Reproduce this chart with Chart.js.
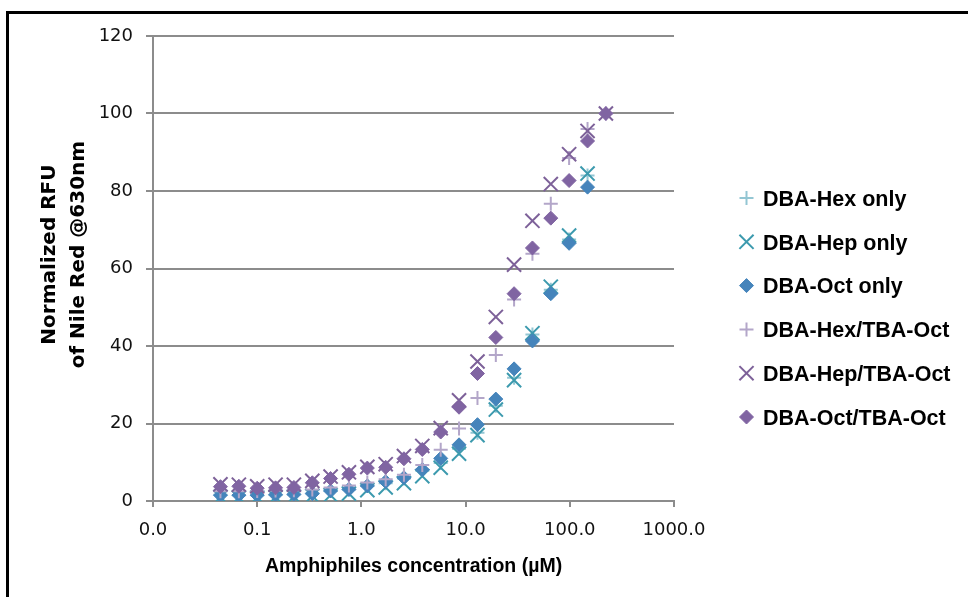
<!DOCTYPE html>
<html>
<head>
<meta charset="utf-8">
<script src="https://cdn.jsdelivr.net/npm/chart.js@4.4.1/dist/chart.umd.min.js"></script>
<style>
  html, body { margin: 0; padding: 0; background: #fff; }
  #wrap { position: relative; width: 968px; height: 597px; overflow: hidden; }
  #frame { position: absolute; left: 6px; top: 11px; width: 1000px; height: 700px; border: 3px solid #000; pointer-events: none; }
  canvas { position: absolute; left: 0; top: 0; }
</style>
</head>
<body>
<div id="wrap">
  <canvas id="chart" width="968" height="597"></canvas>
  <div id="frame"></div>
</div>
<script>
// concentrations (µM), dilution series x1.5
const concentrations = [0.0444, 0.0667, 0.1, 0.15, 0.225, 0.338, 0.506, 0.759, 1.14, 1.71, 2.56, 3.84,
  5.77, 8.65, 13.0, 19.5, 29.2, 43.8, 65.7, 98.5, 148, 222];

const seriesNames = ["DBA-Hex only", "DBA-Hep only", "DBA-Oct only",
  "DBA-Hex/TBA-Oct", "DBA-Hep/TBA-Oct", "DBA-Oct/TBA-Oct"];

const hexOnly = [1.6, 1.5, 1.5, 1.6, 1.7, 2.0, 2.6, 3.0, 3.9, 4.6, 5.8, 7.8, 9.8, 13.5, 17.6, 24.6, 31.8, 43.0, 54.5, 67.5, 84.0];
const hepOnly = [1.0, 0.9, 0.9, 1.0, 1.1, 1.3, 1.5, 1.9, 2.8, 3.5, 4.6, 6.4, 8.6, 12.2, 17.0, 23.6, 31.2, 43.3, 55.3, 68.5, 84.5];
const octOnly = [1.5, 1.5, 1.5, 1.6, 1.7, 1.9, 2.6, 3.0, 3.9, 5.0, 6.0, 8.1, 11.0, 14.5, 19.7, 26.3, 34.1, 41.3, 53.5, 66.5, 81.0];
const hexTba = [2.5, 2.5, 2.6, 2.7, 2.8, 3.0, 3.5, 4.0, 4.8, 5.6, 6.8, 9.3, 13.2, 18.7, 26.6, 37.7, 52.0, 63.8, 76.7, 88.5, 96.0, 100];
const hepTba = [4.3, 4.2, 3.8, 4.2, 4.2, 5.2, 6.3, 7.4, 8.8, 9.5, 11.6, 14.2, 18.8, 26.0, 36.0, 47.5, 61.0, 72.3, 81.8, 89.5, 95.5, 100];
const octTba = [3.7, 3.8, 3.3, 3.4, 3.5, 4.7, 5.8, 6.9, 8.5, 8.7, 10.9, 13.3, 17.8, 24.2, 32.9, 42.2, 53.5, 65.3, 73.0, 82.7, 92.9, 100];

const xTicks = [0.01, 0.1, 1, 10, 100, 1000];
const yTicks = [0, 20, 40, 60, 80, 100, 120];

const styles = [
  { color: "#93c6d3", pointStyle: "cross", radius: 7, width: 2 },
  { color: "#3c9aae", pointStyle: "crossRot", radius: 10, width: 2 },
  { color: "#4584bb", pointStyle: "rectRot", radius: 7, width: 1 },
  { color: "#b3a6c9", pointStyle: "cross", radius: 7, width: 2 },
  { color: "#7d6199", pointStyle: "crossRot", radius: 10, width: 2 },
  { color: "#8064a2", pointStyle: "rectRot", radius: 7, width: 1 }
];

const values = [hexOnly, hepOnly, octOnly, hexTba, hepTba, octTba];

const datasets = values.map((vals, i) => ({
  label: seriesNames[i],
  data: vals.map((v, j) => ({ x: concentrations[j], y: v })),
  showLine: false,
  pointStyle: styles[i].pointStyle,
  pointRadius: styles[i].radius,
  pointHoverRadius: styles[i].radius,
  pointBorderWidth: styles[i].width,
  borderColor: styles[i].color,
  backgroundColor: styles[i].color,
  // later series are drawn on top, like the original
  order: values.length - i
}));

const tickFont = { family: "'DejaVu Sans', sans-serif", size: 18 };
const gridGray = "#8c8c8c";

const sideLegend = {
  id: "sideLegend",
  afterDraw(chart) {
    const { ctx } = chart;
    ctx.save();
    chart.data.datasets.forEach((ds, i) => {
      const y = 198 + i * 43.8;
      ctx.fillStyle = ds.backgroundColor;
      ctx.strokeStyle = ds.borderColor;
      ctx.lineWidth = ds.pointBorderWidth;
      Chart.helpers.drawPoint(ctx, {
        pointStyle: ds.pointStyle,
        radius: ds.pointRadius,
        borderWidth: ds.pointBorderWidth,
        rotation: 0
      }, 746.5, y);
      ctx.fillStyle = "#000";
      ctx.font = "bold 21.5px 'Liberation Sans', Arial, sans-serif";
      ctx.textBaseline = "alphabetic";
      ctx.textAlign = "left";
      ctx.fillText(ds.label, 763, y + 7.7);
    });
    ctx.restore();
  }
};

new Chart(document.getElementById("chart"), {
  type: "scatter",
  data: { datasets },
  plugins: [sideLegend],
  options: {
    responsive: false,
    animation: false,
    layout: { padding: { left: 0, top: 36, right: 294, bottom: 0 } },
    plugins: {
      legend: { display: false },
      tooltip: { enabled: false }
    },
    scales: {
      x: {
        type: "logarithmic",
        position: "bottom",
        min: 0.01,
        max: 1000,
        afterBuildTicks: (scale) => {
          scale.ticks = xTicks.map((v) => ({ value: v }));
        },
        afterFit: (scale) => {
          scale.height = 96;
        },
        ticks: {
          callback: (v) => Number(v).toFixed(1),
          font: tickFont,
          color: "#111",
          padding: 13,
          autoSkip: false,
          maxRotation: 0
        },
        grid: { drawOnChartArea: false, drawTicks: true, tickLength: 6, color: gridGray, lineWidth: 2 },
        border: { color: gridGray, width: 2 },
        title: {
          display: true,
          text: "Amphiphiles concentration (µM)",
          color: "#000",
          font: { family: "'Liberation Sans', Arial, sans-serif", weight: "bold", size: 19.5 },
          padding: { top: 0, bottom: 19 }
        }
      },
      y: {
        min: 0,
        max: 120,
        afterBuildTicks: (scale) => {
          scale.ticks = yTicks.map((v) => ({ value: v }));
        },
        afterFit: (scale) => {
          scale.width = 153;
        },
        ticks: { font: tickFont, color: "#111", padding: 13 },
        grid: { color: gridGray, lineWidth: 2, tickLength: 7 },
        border: { color: gridGray, width: 2 },
        title: {
          display: true,
          // leading spaces lift the centred title a little, as in the original
          text: ["    Normalized RFU", "    of Nile Red @630nm"],
          color: "#000",
          font: { family: "'DejaVu Sans', sans-serif", weight: "bold", size: 20, lineHeight: 1.45 },
          padding: { top: 35.5, bottom: 0 }
        }
      }
    }
  }
});
</script>
</body>
</html>
